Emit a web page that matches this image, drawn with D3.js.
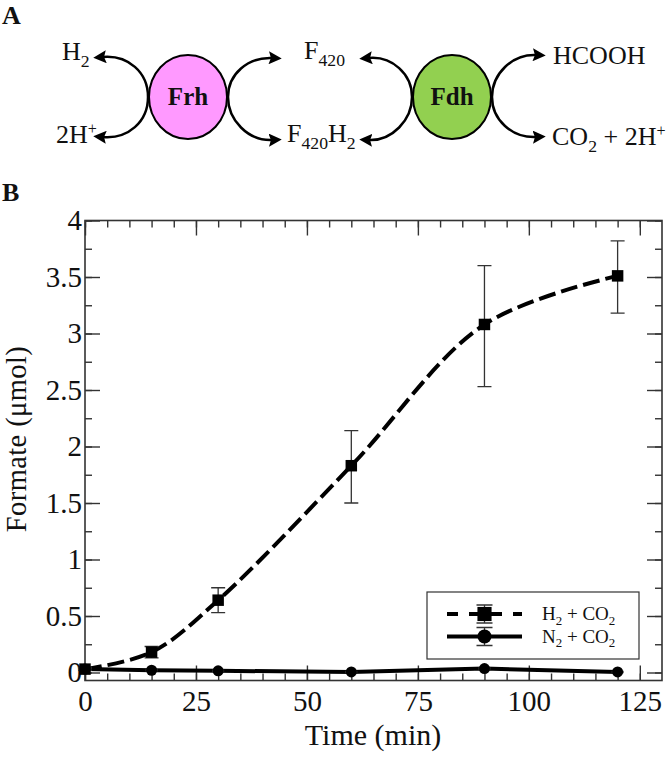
<!DOCTYPE html>
<html>
<head>
<meta charset="utf-8">
<script src="https://d3js.org/d3.v7.min.js"></script>
<style>
html,body{margin:0;padding:0;background:#fff;}
text{font-family:"Liberation Serif",serif;fill:#111;}
</style>
</head>
<body>
<script>
// chart values
const times = [0, 15, 30, 60, 90, 120];
const h2Values = [0.03, 0.18, 0.64, 1.83, 3.08, 3.51];
const h2Low = [0.02, 0.13, 0.53, 1.50, 2.53, 3.18];
const h2High = [0.04, 0.23, 0.75, 2.14, 3.60, 3.82];
const n2Values = [0.03, 0.02, 0.015, 0.005, 0.035, 0.005];
const n2Err = [0.005, 0.005, 0.005, 0.005, 0.005, 0.005];

const xMajor = [0, 25, 50, 75, 100, 125];
const xMinor = d3.range(0, 130, 5);
const yMajor = [0, 0.5, 1, 1.5, 2, 2.5, 3, 3.5, 4];
const yMinor = d3.range(0, 4.01, 0.25);

const legendNames = [[["H"], ["2", "sub"], [" + CO"], ["2", "sub"]], [["N"], ["2", "sub"], [" + CO"], ["2", "sub"]]];

// panel A
const enzymes = [
  {name: "Frh", cx: 188, color: "#ff99ff"},
  {name: "Fdh", cx: 452, color: "#92d050"}
];
const arrows = [
  [148, 97, 148, 72, 128, 55, 103, 57],
  [148, 97, 148, 122, 128, 139, 103, 137],
  [228, 97, 228, 74, 248, 57, 272, 58],
  [228, 97, 228, 120, 248, 141, 272, 140],
  [412, 97, 412, 74, 392, 56, 369, 58],
  [412, 97, 412, 120, 392, 141, 369, 140],
  [492, 97, 492, 74, 512, 54, 536, 55],
  [492, 97, 492, 120, 512, 138, 536, 137]
];
const species = [
  {x: 62, y: 60, parts: [["H"], ["2", "sub"]]},
  {x: 56, y: 143, parts: [["2H"], ["+", "sup"]]},
  {x: 304, y: 59, parts: [["F"], ["420", "sub"]]},
  {x: 287, y: 142, parts: [["F"], ["420", "sub"], ["H"], ["2", "sub"]]},
  {x: 553, y: 64, parts: [["HCOOH"]]},
  {x: 552, y: 145, parts: [["CO"], ["2", "sub"], [" + 2H"], ["+", "sup"]]}
];

const svg = d3.select("body").append("svg")
  .attr("width", 666).attr("height", 758)
  .style("display", "block");

svg.append("defs").append("marker")
  .attr("id", "head")
  .attr("markerUnits", "userSpaceOnUse")
  .attr("viewBox", "0 0 12 12")
  .attr("refX", 3).attr("refY", 6)
  .attr("markerWidth", 13).attr("markerHeight", 13)
  .attr("orient", "auto")
  .append("path")
  .attr("d", "M0,0L12,6L0,12L2,6Z")
  .attr("fill", "#000");

// writes a label with sub / superscripts
function richText(sel, parts, size) {
  let shift = 0;
  parts.forEach(p => {
    const kind = p[1];
    const t = sel.append("tspan").text(p[0]).style("white-space", "pre");
    let next = 0;
    if (kind == "sub") next = size * 0.25;
    if (kind == "sup") next = -size * 0.36;
    t.attr("dy", next - shift)
      .attr("font-size", kind == "sub" ? size * 0.68 : kind == "sup" ? size * 0.62 : size);
    shift = next;
  });
}

svg.selectAll(".tag").data(["A", "B"]).enter().append("text")
  .attr("class", "tag")
  .attr("x", 2).attr("y", (d, i) => i == 0 ? 24 : 201)
  .attr("font-size", 26).attr("font-weight", "bold")
  .text(d => d);

svg.selectAll(".arc").data(arrows).enter().append("path")
  .attr("class", "arc")
  .attr("d", d => {
    const p = d3.path();
    p.moveTo(d[0], d[1]);
    p.bezierCurveTo(d[2], d[3], d[4], d[5], d[6], d[7]);
    return p.toString();
  })
  .attr("fill", "none")
  .attr("stroke", "#000")
  .attr("stroke-width", 2.5)
  .attr("marker-end", "url(#head)");

svg.selectAll(".enzyme").data(enzymes).enter().append("ellipse")
  .attr("class", "enzyme")
  .attr("cx", d => d.cx).attr("cy", 97)
  .attr("rx", 39).attr("ry", 42)
  .attr("fill", d => d.color)
  .attr("stroke", "#000").attr("stroke-width", 2);

svg.selectAll(".enzymeName").data(enzymes).enter().append("text")
  .attr("class", "enzymeName")
  .attr("x", d => d.cx).attr("y", 105)
  .attr("text-anchor", "middle")
  .attr("font-size", 25).attr("font-weight", "bold")
  .text(d => d.name);

svg.selectAll(".species").data(species).enter().append("text")
  .attr("class", "species")
  .attr("x", d => d.x).attr("y", d => d.y)
  .each(function(d) { richText(d3.select(this), d.parts, 26); });

// panel B
const x = d3.scaleLinear().domain([0, 130]).range([85, 662]);
const y = d3.scaleLinear().domain([0, 4]).range([672.5, 220.5]);
const top_ = 220.5, bottom = 680.5;

function drawAxis(axis, tx, ty, labels) {
  const g = svg.append("g").attr("transform", `translate(${tx},${ty})`).call(axis);
  g.selectAll("line").attr("stroke", "#333").attr("stroke-width", 1.4);
  g.select(".domain").remove();
  g.selectAll("text").attr("font-size", 29).attr("font-family", "Liberation Serif").attr("fill", "#111");
  if (!labels) g.selectAll("text").remove();
  return g;
}

const fmt = d => String(d);
drawAxis(d3.axisBottom(x).tickValues(xMinor).tickSize(-7).tickFormat(""), 0, bottom, false);
drawAxis(d3.axisTop(x).tickValues(xMinor).tickSize(-7).tickFormat(""), 0, top_, false);
drawAxis(d3.axisLeft(y).tickValues(yMinor).tickSize(-7).tickFormat(""), 85, 0, false);
drawAxis(d3.axisRight(y).tickValues(yMinor).tickSize(-7).tickFormat(""), 662, 0, false);
drawAxis(d3.axisBottom(x).tickValues(xMajor).tickSize(-15).tickPadding(10).tickFormat(fmt), 0, bottom, true);
drawAxis(d3.axisTop(x).tickValues(xMajor).tickSize(-15).tickFormat(""), 0, top_, false);
drawAxis(d3.axisLeft(y).tickValues(yMajor).tickSize(-15).tickPadding(3).tickFormat(fmt), 85, 0, true);
drawAxis(d3.axisRight(y).tickValues(yMajor).tickSize(-15).tickFormat(""), 662, 0, false);

svg.append("rect")
  .attr("x", 85).attr("y", top_)
  .attr("width", 577).attr("height", bottom - top_)
  .attr("fill", "none").attr("stroke", "#333").attr("stroke-width", 1.6);

svg.append("text")
  .attr("x", 373).attr("y", 745)
  .attr("text-anchor", "middle").attr("font-size", 30)
  .text("Time (min)");

svg.append("text")
  .attr("transform", "translate(25.5,439) rotate(-90)")
  .attr("text-anchor", "middle").attr("font-size", 28.5)
  .attr("letter-spacing", 0.4)
  .text("Formate (\u03bcmol)");

const smooth = d3.line().x((d, i) => x(times[i])).y(d => y(d)).curve(d3.curveCatmullRom.alpha(0.5));
const straight = d3.line().x((d, i) => x(times[i])).y(d => y(d));

svg.append("path").datum(h2Values)
  .attr("d", smooth)
  .attr("fill", "none").attr("stroke", "#000").attr("stroke-width", 4)
  .attr("stroke-dasharray", "17 6");

svg.append("path").datum(n2Values)
  .attr("d", straight)
  .attr("fill", "none").attr("stroke", "#000").attr("stroke-width", 4);

function errBar(cx, y0, y1, capW) {
  const p = d3.path();
  p.moveTo(cx, y0); p.lineTo(cx, y1);
  p.moveTo(cx - capW, y0); p.lineTo(cx + capW, y0);
  p.moveTo(cx - capW, y1); p.lineTo(cx + capW, y1);
  return p.toString();
}

svg.selectAll(".errH").data(times).enter().append("path")
  .attr("class", "errH")
  .attr("d", (d, i) => errBar(x(d), y(h2Low[i]), y(h2High[i]), 7))
  .attr("fill", "none").attr("stroke", "#333").attr("stroke-width", 1.3);

svg.selectAll(".errN").data(times).enter().append("path")
  .attr("class", "errN")
  .attr("d", (d, i) => errBar(x(d), y(n2Values[i] - n2Err[i]), y(n2Values[i] + n2Err[i]), 6))
  .attr("fill", "none").attr("stroke", "#333").attr("stroke-width", 1.3);

svg.selectAll(".ptN").data(times).enter().append("circle")
  .attr("class", "ptN")
  .attr("cx", d => x(d)).attr("cy", (d, i) => y(n2Values[i]))
  .attr("r", 5.5).attr("fill", "#000");

svg.selectAll(".ptH").data(times).enter().append("path")
  .attr("class", "ptH")
  .attr("transform", (d, i) => `translate(${x(d)},${y(h2Values[i])})`)
  .attr("d", d3.symbol(d3.symbolSquare, 132))
  .attr("fill", "#000");

// legend
const legend = svg.append("g").attr("transform", "translate(427,592)");
legend.append("rect")
  .attr("width", 212).attr("height", 67)
  .attr("fill", "#fff").attr("stroke", "#333").attr("stroke-width", 1.2);

const rows = legend.selectAll(".row").data(legendNames).enter().append("g")
  .attr("class", "row")
  .attr("transform", (d, i) => `translate(0,${22 + i * 22.5})`);

rows.append("line")
  .attr("x1", 20).attr("x2", 95)
  .attr("stroke", "#000").attr("stroke-width", 4)
  .attr("stroke-dasharray", (d, i) => i == 0 ? "11 11" : null);

rows.append("path")
  .attr("d", d => errBar(57.5, -9, 9, 8))
  .attr("fill", "none").attr("stroke", "#333").attr("stroke-width", 1.3);

rows.filter((d, i) => i == 0).append("path")
  .attr("d", d3.symbol(d3.symbolSquare, 200)).attr("transform", "translate(57.5,0)");
rows.filter((d, i) => i == 1).append("circle")
  .attr("cx", 57.5).attr("r", 7);

rows.append("text")
  .attr("x", 115).attr("y", 6)
  .each(function(d) { richText(d3.select(this), d, 19); });
</script>
</body>
</html>
